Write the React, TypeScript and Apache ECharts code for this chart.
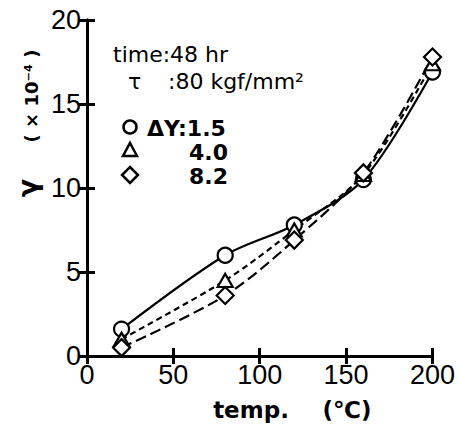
import React, { useEffect, useRef } from "react";
import * as echarts from "echarts";

const temps = [20, 80, 120, 160, 200];
const dy15 = [1.6, 6.0, 7.8, 10.5, 16.9];
const dy40 = [1.0, 4.5, 7.5, 10.8, 17.4];
const dy82 = [0.5, 3.6, 6.9, 10.9, 17.8];

const FONT = "Liberation Sans";
const FONT2 = "DejaVu Sans";

export default function App() {
  const ref = useRef<HTMLDivElement>(null);
  useEffect(() => {
    if (!ref.current) return;
    const chart = echarts.init(ref.current, null, { renderer: "svg" });
    const pts = (ys: number[]) => temps.map((t, i) => [t, ys[i]]);
    const axisCommon = {
      axisLine: { show: true, lineStyle: { color: "#000", width: 3 } },
      axisTick: { show: true, inside: true, length: 8, lineStyle: { color: "#000", width: 3 } },
      splitLine: { show: false },
    };
    const seriesBase = {
      type: "line",
      smooth: 0.3,
      symbolKeepAspect: true,
      itemStyle: { color: "#fff", borderColor: "#000", borderWidth: 2.2 },
      z: 3,
    };
    chart.setOption({
      animation: false,
      backgroundColor: "#fff",
      grid: { left: 87, right: 25, top: 20, bottom: 71 },
      xAxis: [
        {
          type: "value",
          min: 0,
          max: 200,
          interval: 50,
          ...axisCommon,
          axisLabel: { color: "#000", fontSize: 27, fontFamily: FONT, margin: 5 },
        },
        {
          type: "value",
          position: "top",
          min: 0,
          max: 200,
          interval: 50,
          ...axisCommon,
          axisLabel: { show: false },
        },
      ],
      yAxis: [
        {
          type: "value",
          min: 0,
          max: 20,
          interval: 5,
          ...axisCommon,
          axisLabel: { color: "#000", fontSize: 27, fontFamily: FONT, margin: 6 },
        },
        {
          type: "value",
          position: "right",
          min: 0,
          max: 20,
          interval: 5,
          ...axisCommon,
          axisLabel: { show: false },
        },
      ],
      series: [
        {
          ...seriesBase,
          name: "ΔY:1.5",
          data: pts(dy15),
          symbol: "circle",
          symbolSize: 15,
          lineStyle: { color: "#000", width: 2.2, type: "solid" },
        },
        {
          ...seriesBase,
          name: "4.0",
          data: pts(dy40),
          symbol: "triangle",
          symbolSize: [15, 13],
          lineStyle: { color: "#000", width: 2.2, type: [6, 4] },
        },
        {
          ...seriesBase,
          name: "8.2",
          data: pts(dy82),
          symbol: "diamond",
          symbolSize: 17,
          lineStyle: { color: "#000", width: 2.2, type: [11, 5] },
        },
      ],
      graphic: [
        {
          type: "text",
          x: 251,
          y: 410,
          style: {
            text: "temp.",
            fontSize: 23,
            fontWeight: "bold",
            fontFamily: FONT2,
            fill: "#000",
            align: "center",
            verticalAlign: "middle",
          },
        },
        {
          type: "text",
          x: 347,
          y: 410,
          style: {
            text: "(℃)",
            fontSize: 23,
            fontWeight: "bold",
            fontFamily: FONT2,
            fill: "#000",
            align: "center",
            verticalAlign: "middle",
          },
        },
        {
          type: "text",
          x: 27,
          y: 188,
          rotation: Math.PI / 2,
          style: {
            text: "γ",
            fontSize: 27,
            fontWeight: "bold",
            fontFamily: FONT2,
            fill: "#000",
            align: "center",
            verticalAlign: "middle",
          },
        },
        {
          type: "text",
          x: 31,
          y: 96,
          rotation: Math.PI / 2,
          style: {
            text: "( × 10⁻⁴ )",
            fontSize: 18,
            fontWeight: "bold",
            fontFamily: FONT2,
            fill: "#000",
            align: "center",
            verticalAlign: "middle",
          },
        },
        {
          type: "text",
          x: 113,
          y: 54,
          style: { text: "time:48 hr", fontSize: 22, fontFamily: FONT2, fill: "#000", verticalAlign: "middle" },
        },
        {
          type: "text",
          x: 128,
          y: 81,
          style: { text: "τ", fontSize: 22, fontFamily: FONT2, fill: "#000", verticalAlign: "middle" },
        },
        {
          type: "text",
          x: 168,
          y: 81,
          style: { text: ":80 kgf/mm²", fontSize: 22, fontFamily: FONT2, fill: "#000", verticalAlign: "middle" },
        },
        {
          type: "circle",
          shape: { cx: 130, cy: 127, r: 6.5 },
          style: { fill: "#fff", stroke: "#000", lineWidth: 2.5 },
        },
        {
          type: "polygon",
          shape: { points: [[130, 143], [137, 156], [123, 156]] },
          style: { fill: "#fff", stroke: "#000", lineWidth: 2.5 },
        },
        {
          type: "polygon",
          shape: { points: [[130, 167], [138, 175], [130, 183], [122, 175]] },
          style: { fill: "#fff", stroke: "#000", lineWidth: 2.5 },
        },
        {
          type: "text",
          x: 147,
          y: 128,
          style: { text: "ΔY:1.5", fontSize: 22, fontWeight: "bold", fontFamily: FONT2, fill: "#000", verticalAlign: "middle" },
        },
        {
          type: "text",
          x: 228,
          y: 152,
          style: { text: "4.0", fontSize: 22, fontWeight: "bold", fontFamily: FONT2, fill: "#000", align: "right", verticalAlign: "middle" },
        },
        {
          type: "text",
          x: 228,
          y: 176,
          style: { text: "8.2", fontSize: 22, fontWeight: "bold", fontFamily: FONT2, fill: "#000", align: "right", verticalAlign: "middle" },
        },
      ],
    });
    return () => chart.dispose();
  }, []);
  return <div ref={ref} style={{ width: 458, height: 427, position: "absolute", left: 0, top: 0 }} />;
}
